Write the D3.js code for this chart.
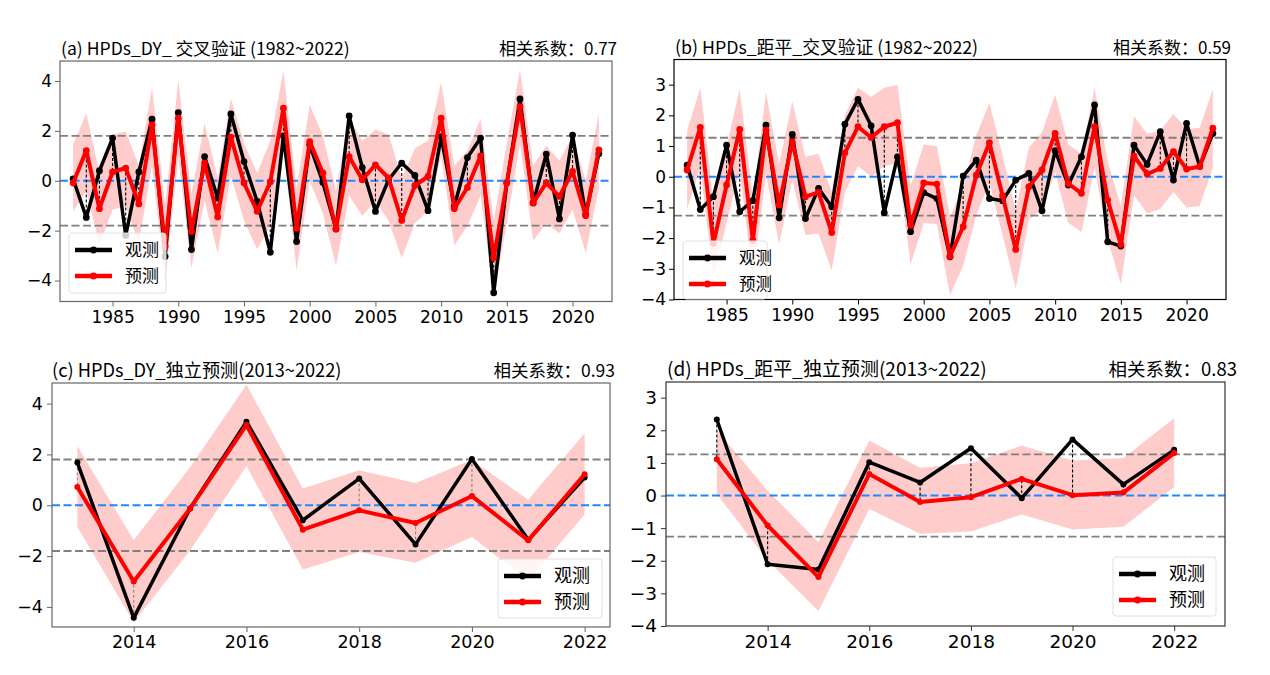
<!DOCTYPE html>
<html>
<head>
<meta charset="utf-8">
<script src="https://cdn.jsdelivr.net/npm/d3@7"></script>
<style>
  body { margin: 0; background: #fff; }
  svg text { font-family: "DejaVu Sans", sans-serif; fill: #000; }
  .cjk { font-family: "Noto Sans CJK SC", "Noto Sans", sans-serif; }
</style>
</head>
<body>
<svg width="1270" height="675"></svg>
<script>
// ---- data ----
const yearsCV = [1982, 1983, 1984, 1985, 1986, 1987, 1988, 1989, 1990, 1991,
                 1992, 1993, 1994, 1995, 1996, 1997, 1998, 1999, 2000, 2001,
                 2002, 2003, 2004, 2005, 2006, 2007, 2008, 2009, 2010, 2011,
                 2012, 2013, 2014, 2015, 2016, 2017, 2018, 2019, 2020, 2021, 2022];

// (a) HPDs_DY cross validation
const obsDY  = [0.07, -1.47, 0.40, 1.71, -2.19, 0.35, 2.47, -3.04, 2.73, -2.76,
                0.97, -0.70, 2.68, 0.77, -0.83, -2.87, 1.80, -2.44, 1.44, -0.07,
                -1.93, 2.60, 0.53, -1.23, 0.04, 0.71, 0.21, -1.20, 1.77, -1.03,
                0.93, 1.71, -4.49, -0.09, 3.28, -0.89, 1.07, -1.53, 1.83, -1.36, 1.08];
const predDY = [-0.09, 1.21, -1.12, 0.35, 0.51, -0.93, 2.24, -2.63, 2.51, -2.03,
                0.71, -1.45, 1.75, -0.09, -1.23, -0.05, 2.91, -1.90, 1.57, 0.31,
                -1.93, 0.97, 0.04, 0.64, 0.11, -1.59, -0.19, 0.17, 2.51, -1.12,
                -0.27, 1.00, -3.09, -0.09, 2.97, -0.89, -0.09, -0.63, 0.37, -1.40, 1.24];
const upDY   = [1.44, 2.71, 0.33, 1.85, 1.97, 0.60, 3.75, -1.00, 4.05, -0.50,
                2.30, 0.10, 3.30, 1.50, 0.30, 1.60, 4.40, -0.30, 3.05, 1.80,
                -0.40, 2.50, 1.60, 2.05, 1.85, 0.10, 1.30, 1.60, 3.95, 0.60,
                1.20, 2.50, -1.60, 1.50, 4.45, 0.60, 1.40, 0.80, 1.80, 0.00, 2.70];
const lowDY  = [-1.23, -0.40, -2.56, -1.15, -1.03, -2.50, 0.60, -4.10, 0.95, -3.50,
                -0.80, -2.90, 0.20, -1.60, -2.75, -1.80, 1.30, -3.60, 0.00, -1.30,
                -3.40, -0.60, -1.40, -0.80, -1.60, -3.10, -1.70, -1.20, 1.00, -2.60,
                -1.80, -0.60, -4.60, -1.70, 1.50, -2.40, -1.70, -2.10, -1.15, -2.90, -0.30];

// (b) HPDs anomaly cross validation
const obsJP  = [0.38, -1.07, -0.65, 1.03, -1.14, -0.78, 1.68, -1.34, 1.38, -1.36,
                -0.38, -0.98, 1.71, 2.52, 1.66, -1.17, 0.65, -1.79, -0.52, -0.71,
                -2.61, 0.02, 0.54, -0.71, -0.78, -0.11, 0.11, -1.11, 0.85, -0.27,
                0.65, 2.34, -2.12, -2.26, 1.03, 0.40, 1.47, -0.11, 1.74, 0.33, 1.41];
const predJP = [0.22, 1.61, -2.17, -0.27, 1.54, -2.07, 1.52, -0.92, 1.14, -0.65,
                -0.51, -1.82, 0.78, 1.63, 1.28, 1.63, 1.76, -1.58, -0.20, -0.24,
                -2.59, -1.63, 0.05, 1.11, -0.62, -2.37, -0.33, 0.22, 1.41, -0.22,
                -0.54, 1.63, -0.76, -2.21, 0.67, 0.09, 0.27, 0.82, 0.25, 0.33, 1.58];
const upJP   = [1.50, 2.90, -0.80, 1.00, 2.85, -0.70, 2.75, 0.40, 2.45, 0.65,
                0.75, -0.50, 2.00, 2.90, 2.60, 2.90, 3.00, -0.30, 1.05, 1.00,
                -1.30, -0.35, 1.35, 2.40, 0.70, -1.10, 0.95, 1.45, 2.68, 1.05,
                0.75, 2.90, 0.50, -0.95, 1.97, 1.40, 1.50, 2.05, 1.55, 1.60, 2.85];
const lowJP  = [-1.05, 0.30, -3.30, -1.50, 0.20, -3.35, 0.10, -2.20, -0.10, -1.90,
                -1.85, -3.05, -0.50, 0.35, 0.00, 0.35, 0.45, -2.85, -1.50, -1.55,
                -3.85, -2.90, -1.25, -0.20, -1.90, -3.65, -1.40, -1.05, 0.15, -1.50,
                -1.80, 0.30, -2.05, -3.50, -0.60, -1.20, -1.05, -0.50, -1.00, -0.95, 0.30];

// (c) / (d) independent prediction
const yearsInd = [2013, 2014, 2015, 2016, 2017, 2018, 2019, 2020, 2021, 2022];
const obsDYInd  = [1.68, -4.43, -0.13, 3.29, -0.59, 1.05, -1.54, 1.82, -1.36, 1.09];
const predDYInd = [0.72, -3.00, -0.13, 3.16, -0.96, -0.20, -0.70, 0.36, -1.38, 1.22];
const upDYInd   = [2.33, -1.38, 1.50, 4.74, 0.66, 1.38, 0.88, 1.78, 0.22, 2.83];
const lowDYInd  = [-0.86, -4.60, -1.78, 1.54, -2.53, -1.84, -2.26, -1.25, -2.96, -0.36];
const obsJPInd  = [2.33, -2.11, -2.27, 1.02, 0.40, 1.45, -0.08, 1.72, 0.34, 1.40];
const predJPInd = [1.11, -0.92, -2.50, 0.66, -0.20, -0.05, 0.51, 0.01, 0.09, 1.30];
const upJPInd   = [2.00, 0.15, -1.43, 1.69, 0.85, 0.99, 1.53, 1.07, 1.15, 2.37];
const lowJPInd  = [0.05, -1.99, -3.54, -0.41, -1.17, -1.10, -0.58, -1.04, -0.96, 0.26];

const xTicksCV  = [1985, 1990, 1995, 2000, 2005, 2010, 2015, 2020];
const xTicksInd = [2014, 2016, 2018, 2020, 2022];
const yTicksDY  = [-4, -2, 0, 2, 4];
const yTicksJP  = [-4, -3, -2, -1, 0, 1, 2, 3];

const titles = ["(a) HPDs_DY_ 交叉验证 (1982~2022)", "(b) HPDs_距平_交叉验证 (1982~2022)",
                "(c) HPDs_DY_独立预测(2013~2022)", "(d) HPDs_距平_独立预测(2013~2022)"];
const corrLabels = ["相关系数：0.77", "相关系数：0.59", "相关系数：0.93", "相关系数：0.83"];
const thresholds = [1.8, 1.27, 1.8, 1.26];
const seriesNames = ["观测", "预测"];

// ---- panel layout ----
const panels = [
  { years: yearsCV, obs: obsDY, pred: predDY, up: upDY, low: lowDY,
    xDomain: [1981, 2023], yDomain: [-4.84, 4.8], xTicks: xTicksCV, yTicks: yTicksDY,
    left: 60, top: 61, right: 612, bottom: 301.5, frame: "#666", conn: "#000",
    tickFont: 17, yPad: 3, titleX: 61, titleY: 55, titleFont: 17.6, corrX: 617, corrFont: 17,
    legend: { x: 69, y: 233, w: 97, h: 60, fs: 17 }, lw: 3.5, r: 3.4 },
  { years: yearsCV, obs: obsJP, pred: predJP, up: upJP, low: lowJP,
    xDomain: [1981, 2023], yDomain: [-4, 3.82], xTicks: xTicksCV, yTicks: yTicksJP,
    left: 674, top: 59.5, right: 1226, bottom: 299.5, frame: "#000", conn: "#000",
    tickFont: 17, yPad: 3, titleX: 675, titleY: 54, titleFont: 17.8, corrX: 1231, corrFont: 17,
    legend: { x: 683, y: 241, w: 84, h: 58, fs: 16.5 }, lw: 3.5, r: 3.4 },
  { years: yearsInd, obs: obsDYInd, pred: predDYInd, up: upDYInd, low: lowDYInd,
    xDomain: [2012.55, 2022.45], yDomain: [-4.79, 4.81], xTicks: xTicksInd, yTicks: yTicksDY,
    left: 52, top: 383, right: 610, bottom: 627, frame: "#666", conn: "#888",
    tickFont: 17.5, yPad: 4, titleX: 52, titleY: 377, titleFont: 18.2, corrX: 615, corrFont: 17.5,
    legend: { x: 498, y: 559, w: 104, h: 59, fs: 18 }, lw: 3.5, r: 3 },
  { years: yearsInd, obs: obsJPInd, pred: predJPInd, up: upJPInd, low: lowJPInd,
    xDomain: [2012, 2023], yDomain: [-4, 3.48], xTicks: xTicksInd, yTicks: yTicksJP,
    left: 666, top: 382, right: 1225, bottom: 626, frame: "#333", conn: "#000",
    tickFont: 18.5, yPad: 4, titleX: 667, titleY: 376, titleFont: 19, corrX: 1237, corrFont: 18.5,
    legend: { x: 1113, y: 557, w: 103, h: 59, fs: 18 }, lw: 3.5, r: 3 }
];

const svg = d3.select("svg");

function drawPanel(p, i) {
  const g = svg.append("g");
  const x = d3.scaleLinear().domain(p.xDomain).range([p.left, p.right]);
  const y = d3.scaleLinear().domain(p.yDomain).range([p.bottom, p.top]);
  const rows = p.years.map((yr, k) => ({ yr, o: p.obs[k], f: p.pred[k], hi: p.up[k], lo: p.low[k] }));

  // uncertainty band
  g.append("path")
    .datum(rows)
    .attr("fill", "#ffcccc")
    .attr("d", d3.area().x(d => x(d.yr)).y0(d => y(d.lo)).y1(d => y(d.hi)));

  // reference lines
  [thresholds[i], -thresholds[i]].forEach(v => {
    g.append("line")
      .attr("x1", p.left).attr("x2", p.right)
      .attr("y1", y(v)).attr("y2", y(v))
      .attr("stroke", "#808080").attr("stroke-width", 1.8)
      .attr("stroke-dasharray", "8,3.5");
  });
  g.append("line")
    .attr("x1", p.left).attr("x2", p.right)
    .attr("y1", y(0)).attr("y2", y(0))
    .attr("stroke", "#1e88ff").attr("stroke-width", 1.8)
    .attr("stroke-dasharray", "8,3.5");

  // obs -> pred connectors
  g.selectAll(".conn")
    .data(rows)
    .join("line")
    .attr("x1", d => x(d.yr)).attr("x2", d => x(d.yr))
    .attr("y1", d => y(d.o)).attr("y2", d => y(d.f))
    .attr("stroke", p.conn).attr("stroke-width", 1.1)
    .attr("stroke-dasharray", "3,2");

  const series = [{ key: "o", color: "#000", w: p.lw }, { key: "f", color: "#ff0000", w: p.lw + 0.5 }];
  series.forEach(s => {
    g.append("path")
      .datum(rows)
      .attr("fill", "none")
      .attr("stroke", s.color)
      .attr("stroke-width", s.w)
      .attr("stroke-linejoin", "round")
      .attr("d", d3.line().x(d => x(d.yr)).y(d => y(d[s.key])));
    g.selectAll(".m" + s.key)
      .data(rows)
      .join("circle")
      .attr("cx", d => x(d.yr))
      .attr("cy", d => y(d[s.key]))
      .attr("r", p.r)
      .attr("fill", s.color);
  });

  // frame
  g.append("rect")
    .attr("x", p.left).attr("y", p.top)
    .attr("width", p.right - p.left).attr("height", p.bottom - p.top)
    .attr("fill", "none").attr("stroke", p.frame).attr("stroke-width", 1.2);

  // axes
  const xAxis = g.append("g")
    .attr("transform", `translate(0,${p.bottom})`)
    .call(d3.axisBottom(x).tickValues(p.xTicks).tickFormat(d3.format("d")).tickSize(5).tickPadding(4));
  const yAxis = g.append("g")
    .attr("transform", `translate(${p.left},0)`)
    .call(d3.axisLeft(y).tickValues(p.yTicks).tickFormat(d3.format("d")).tickSize(5).tickPadding(p.yPad));
  [xAxis, yAxis].forEach(a => {
    a.select(".domain").remove();
    a.selectAll("line").attr("stroke", p.frame);
    a.selectAll("text")
      .style("font-family", '"DejaVu Sans", sans-serif')
      .style("font-size", p.tickFont + "px")
      .attr("fill", "#000");
  });

  // legend
  const L = p.legend;
  const lg = g.append("g");
  lg.append("rect")
    .attr("x", L.x).attr("y", L.y).attr("width", L.w).attr("height", L.h)
    .attr("rx", 3)
    .attr("fill", "#fff").attr("fill-opacity", 0.8)
    .attr("stroke", "#e0e0e0");
  series.forEach((s, k) => {
    const cy = L.y + 17 + k * 26;
    lg.append("line")
      .attr("x1", L.x + 6).attr("x2", L.x + 43)
      .attr("y1", cy).attr("y2", cy)
      .attr("stroke", s.color).attr("stroke-width", 4.5);
    lg.append("circle")
      .attr("cx", L.x + 24.5).attr("cy", cy).attr("r", 3.4)
      .attr("fill", s.color);
    lg.append("text")
      .attr("class", "cjk")
      .attr("x", L.x + 56).attr("y", cy)
      .attr("dy", "0.36em")
      .style("font-size", L.fs + "px")
      .text(seriesNames[k]);
  });

  // titles
  g.append("text")
    .attr("class", "cjk")
    .attr("x", p.titleX).attr("y", p.titleY)
    .style("font-size", p.titleFont + "px")
    .text(titles[i]);
  g.append("text")
    .attr("class", "cjk")
    .attr("x", p.corrX).attr("y", p.titleY)
    .attr("text-anchor", "end")
    .style("font-size", p.corrFont + "px")
    .text(corrLabels[i]);
}

panels.forEach(drawPanel);
</script>
</body>
</html>
